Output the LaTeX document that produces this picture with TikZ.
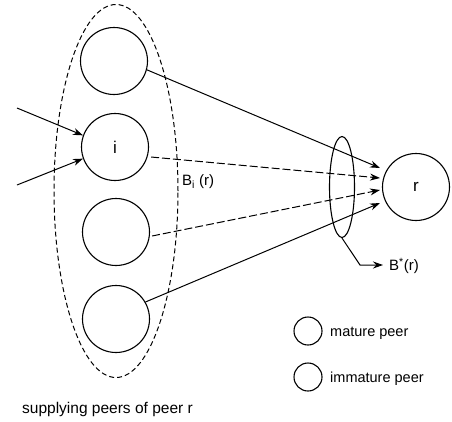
\documentclass[tikz,border=0pt]{standalone}
\usepackage{fontspec}
\setmainfont{Liberation Sans}
\usetikzlibrary{arrows.meta,shapes.geometric}
\begin{document}
\begin{tikzpicture}[x=1pt,y=-1pt,
  peer/.style={circle,draw,line width=1.1pt,minimum size=67pt,inner sep=0pt,font=\fontsize{17}{18}\selectfont},
  legendpeer/.style={circle,draw,line width=1.1pt,minimum size=28pt,inner sep=0pt},
  arr/.style={line width=1pt,-{Stealth[length=10pt,width=7pt]}},
  darr/.style={arr,dash pattern=on 8pt off 3pt},
  lbl/.style={font=\fontsize{14.5}{17}\selectfont,inner sep=0pt,anchor=west}]
\useasboundingbox (0,0) rectangle (452,421);
% big dashed group
\node[ellipse,draw,dash pattern=on 5pt off 3pt,line width=1pt,minimum width=124pt,minimum height=373pt,inner sep=0pt] (grp) at (116,191) {};
% peers
\node[peer] (p1) at (114,61) {};
\node[peer] (pi) at (115,147) {i};
\node[peer] (p3) at (116,232) {};
\node[peer] (p4) at (116,319) {};
\node[peer] (r) at (416,187) {r};
% small ellipse B*(r)
\node[ellipse,draw,line width=1.1pt,minimum width=25pt,minimum height=101pt,inner sep=0pt] (bs) at (342,187) {};
% incoming
\coordinate (in1) at (17,108);
\coordinate (in2) at (17,185);
\draw[arr] (in1) -- (pi.160);
\draw[arr] (in2) -- (pi.200);
% outgoing
\coordinate (t1) at (380,168);
\coordinate (t2) at (380,178);
\coordinate (t3) at (380,190);
\coordinate (t4) at (380,203);
\draw[arr] (p1.-15) -- (t1);
\draw[darr] (pi.east) ++(2,10) -- (t2);
\draw[darr] (p3.east) ++(2,4) -- (t3);
\draw[arr] (p4.30) -- (t4);
% labels
\node[font=\fontsize{15}{18}\selectfont,anchor=west,inner sep=0pt] (bi) at (182,182) {B\textsubscript{i} (r)};
\coordinate (bc) at (360,265);
\draw[arr] (bs.south) -- (bc) -- (383,265);
\node[font=\fontsize{15}{18}\selectfont,anchor=west,inner sep=0pt] (bst) at (389,266) {B\textsuperscript{*}(r)};
% legend
\node[legendpeer] (lm) at (308,331) {};
\node[legendpeer] (li) at (308,377) {};
\node[lbl] at (330,333) {mature peer};
\node[lbl] at (330,379) {immature peer};
\node[font=\fontsize{15.5}{18}\selectfont,inner sep=0pt,anchor=west] (cap) at (22,409) {supplying peers of peer r};
\end{tikzpicture}
\end{document}
